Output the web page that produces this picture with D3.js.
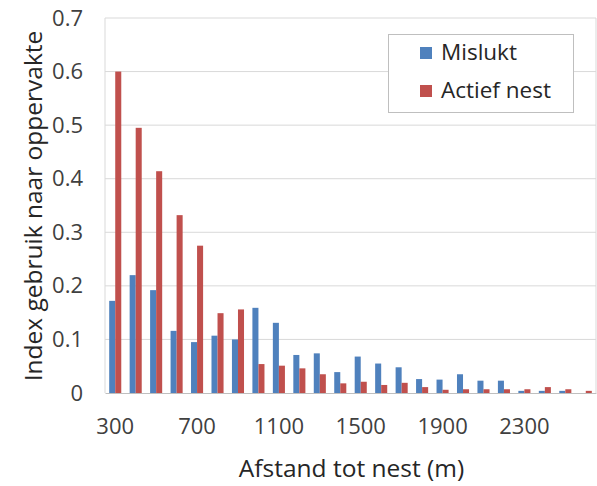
<!DOCTYPE html>
<html>
<head>
<meta charset="utf-8">
<script src="https://cdn.jsdelivr.net/npm/d3@7"></script>
<style>
  body { margin: 0; background: #fff; }
  text { font-family: "Open Sans", sans-serif; }
</style>
</head>
<body>
<div id="chart"></div>
<script>
// data
var categories = [300, 400, 500, 600, 700, 800, 900, 1000, 1100, 1200, 1300, 1400,
                  1500, 1600, 1700, 1800, 1900, 2000, 2100, 2200, 2300, 2400, 2500, 2600];
var mislukt = [0.172, 0.220, 0.192, 0.116, 0.095, 0.107, 0.100, 0.159, 0.131, 0.071, 0.074, 0.039,
               0.068, 0.055, 0.048, 0.026, 0.025, 0.035, 0.023, 0.023, 0.004, 0.004, 0.004, 0.0];
var actief = [0.600, 0.495, 0.414, 0.332, 0.275, 0.149, 0.156, 0.054, 0.051, 0.046, 0.035, 0.018,
              0.021, 0.015, 0.019, 0.011, 0.006, 0.007, 0.007, 0.007, 0.007, 0.011, 0.007, 0.004];
var seriesNames = ["Mislukt", "Actief nest"];
var seriesColors = ["#4f81bd", "#c0504d"];
var xTickLabels = [300, 700, 1100, 1500, 1900, 2300];
var yTicks = [0, 0.1, 0.2, 0.3, 0.4, 0.5, 0.6, 0.7];

var W = 597, H = 486;
var margin = { top: 18, right: 1, bottom: 93, left: 105 },
    width = W - margin.left - margin.right,
    height = H - margin.top - margin.bottom;

var svg = d3.select("#chart")
    .append("svg")
    .attr("width", W)
    .attr("height", H)
    .append("g")
    .attr("transform", "translate(" + margin.left + "," + margin.top + ")");

var x0 = d3.scaleBand()
    .domain(categories)
    .range([0, width])
    .paddingInner(0.41)
    .paddingOuter(0.205);

var x1 = d3.scaleBand()
    .domain(seriesNames)
    .range([0, x0.bandwidth()]);

var y = d3.scaleLinear()
    .domain([0, 0.7])
    .range([height, 0]);

var color = d3.scaleOrdinal().domain(seriesNames).range(seriesColors);

// gridlines (0.7 doubles as top border)
svg.append("g")
    .selectAll("line")
    .data(yTicks.slice(1))
    .enter()
    .append("line")
    .attr("x1", 0)
    .attr("x2", width)
    .attr("y1", function (d) { return y(d); })
    .attr("y2", function (d) { return y(d); })
    .attr("stroke", "#d9d9d9")
    .attr("stroke-width", 1);

// plot border (left and right)
svg.append("line").attr("x1", 0).attr("x2", 0).attr("y1", 0).attr("y2", height)
    .attr("stroke", "#d9d9d9");
svg.append("line").attr("x1", width).attr("x2", width).attr("y1", 0).attr("y2", height)
    .attr("stroke", "#d9d9d9");

// bars
var rows = categories.map(function (c, i) {
    return { cat: c, values: [
        { key: "Mislukt", value: mislukt[i] },
        { key: "Actief nest", value: actief[i] }
    ] };
});

svg.append("g")
    .selectAll("g")
    .data(rows)
    .enter()
    .append("g")
    .attr("transform", function (d) { return "translate(" + x0(d.cat) + ",0)"; })
    .selectAll("rect")
    .data(function (d) { return d.values; })
    .enter()
    .append("rect")
    .attr("x", function (d) { return x1(d.key); })
    .attr("width", x1.bandwidth())
    .attr("y", function (d) { return y(d.value); })
    .attr("height", function (d) { return height - y(d.value); })
    .attr("fill", function (d) { return color(d.key); });

// x axis
var xAxis = svg.append("g")
    .attr("transform", "translate(0," + height + ")")
    .call(d3.axisBottom(x0).tickValues(xTickLabels).tickSize(0).tickPadding(25));
xAxis.select(".domain").attr("stroke", "#bfbfbf");
xAxis.selectAll("text")
    .style("font-size", "22px")
    .attr("fill", "#404040");

// y axis
var yAxis = svg.append("g")
    .call(d3.axisLeft(y).tickValues(yTicks).tickSize(0).tickPadding(22)
        .tickFormat(function (d) { return d === 0 ? "0" : d3.format(".1f")(d); }));
yAxis.select(".domain").remove();
yAxis.selectAll("text")
    .style("font-size", "22px")
    .attr("fill", "#404040");

// axis titles
svg.append("text")
    .attr("x", (235 + 468) / 2 - margin.left)
    .attr("y", 477 - margin.top)
    .attr("text-anchor", "middle")
    .style("font-size", "24.5px")
    .attr("fill", "#262626")
    .text("Afstand tot nest (m)");

svg.append("text")
    .attr("transform", "translate(" + (42 - margin.left) + "," + (206 - margin.top) + ") rotate(-90)")
    .attr("text-anchor", "middle")
    .style("font-size", "24.5px")
    .attr("fill", "#262626")
    .text("Index gebruik naar oppervakte");

// legend
var legend = svg.append("g")
    .attr("transform", "translate(" + (388 - margin.left) + "," + (34 - margin.top) + ")");
legend.append("rect")
    .attr("x", 0.5).attr("y", 0.5)
    .attr("width", 185).attr("height", 78)
    .attr("fill", "#fff")
    .attr("stroke", "#bfbfbf");

var item = legend.selectAll(".item")
    .data(seriesNames)
    .enter()
    .append("g")
    .attr("transform", function (d, i) { return "translate(0," + (i * 38) + ")"; });
item.append("rect")
    .attr("x", 32).attr("y", 13)
    .attr("width", 12).attr("height", 12)
    .attr("fill", function (d) { return color(d); });
item.append("text")
    .attr("x", 53)
    .attr("y", 26)
    .style("font-size", "22.5px")
    .attr("fill", "#262626")
    .text(function (d) { return d; });
</script>
</body>
</html>
